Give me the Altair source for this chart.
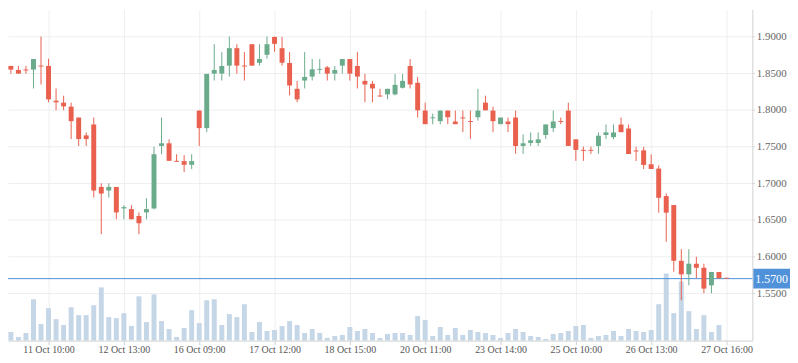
import altair as alt
import pandas as pd

# ---- data ----
open_ = [1.8640, 1.8600, 1.8545, 1.8552, 1.8550, 1.8605, 1.8600, 1.8126, 1.8099, 1.8045,
         1.7896, 1.7653, 1.7802, 1.6950, 1.6901, 1.6950, 1.6657, 1.6648, 1.6554, 1.6603,
         1.6657, 1.7509, 1.7545, 1.7306, 1.7302, 1.7252, 1.7991, 1.7752, 1.8495, 1.8495,
         1.8604, 1.8842, 1.8605, 1.8896, 1.8644, 1.8752, 1.8995, 1.8842, 1.8640, 1.8288,
         1.8401, 1.8455, 1.8548, 1.8581, 1.8495, 1.8604, 1.8694, 1.8599, 1.8396, 1.8356,
         1.8196, 1.8212, 1.8212, 1.8302, 1.8599, 1.8370, 1.7991, 1.7886, 1.7847, 1.7991,
         1.7842, 1.7898, 1.7848, 1.7901, 1.8099, 1.7991, 1.7806, 1.7842, 1.7896, 1.7509,
         1.7550, 1.7550, 1.7658, 1.7752, 1.7848, 1.7991, 1.7599, 1.7456, 1.7456, 1.7509,
         1.7658, 1.7629, 1.7801, 1.7747, 1.7447, 1.7449, 1.7259, 1.7200, 1.6825, 1.6703,
         1.5943, 1.5758, 1.5903, 1.5848, 1.5609, 1.5790, 1.5712]
high = [1.8698, 1.8600, 1.8600, 1.8600, 1.8694, 1.9000, 1.8698, 1.8293, 1.8194, 1.8099,
        1.7896, 1.7694, 1.7896, 1.7000, 1.7000, 1.6950, 1.6702, 1.6702, 1.6603, 1.6797,
        1.7500, 1.7896, 1.7599, 1.7396, 1.7383, 1.7396, 1.7991, 1.8491, 1.8896, 1.8788,
        1.9000, 1.8896, 1.8788, 1.8896, 1.8896, 1.9000, 1.9035, 1.8995, 1.8788, 1.8396,
        1.8788, 1.8694, 1.8694, 1.8599, 1.8599, 1.8694, 1.8694, 1.8788, 1.8491, 1.8396,
        1.8288, 1.8288, 1.8491, 1.8491, 1.8694, 1.8450, 1.8099, 1.7950, 1.7991, 1.7991,
        1.7991, 1.7991, 1.7991, 1.8288, 1.8194, 1.8045, 1.7896, 1.7896, 1.7991, 1.7667,
        1.7694, 1.7694, 1.7802, 1.7991, 1.7896, 1.8099, 1.7599, 1.7500, 1.7500, 1.7694,
        1.7802, 1.7801, 1.7896, 1.7801, 1.7498, 1.7498, 1.7394, 1.7245, 1.6861, 1.6703,
        1.6102, 1.6102, 1.5998, 1.5903, 1.5790, 1.5790, 1.5712]
low = [1.8495, 1.8495, 1.8495, 1.8495, 1.8293, 1.8347, 1.8104, 1.7995, 1.7995, 1.7603,
       1.7509, 1.7509, 1.6806, 1.6306, 1.6806, 1.6509, 1.6509, 1.6509, 1.6306, 1.6509,
       1.6644, 1.7396, 1.7306, 1.7293, 1.7153, 1.7194, 1.7509, 1.7698, 1.8401, 1.8401,
       1.8455, 1.8495, 1.8401, 1.8604, 1.8604, 1.8698, 1.8793, 1.8604, 1.8198, 1.8104,
       1.8293, 1.8401, 1.8495, 1.8401, 1.8401, 1.8495, 1.8401, 1.8293, 1.8104, 1.8104,
       1.8183, 1.8144, 1.8198, 1.8293, 1.8293, 1.7896, 1.7806, 1.7806, 1.7806, 1.7806,
       1.7806, 1.7698, 1.7604, 1.7856, 1.7995, 1.7698, 1.7806, 1.7698, 1.7401, 1.7401,
       1.7509, 1.7509, 1.7604, 1.7698, 1.7806, 1.7509, 1.7306, 1.7306, 1.7401, 1.7401,
       1.7604, 1.7602, 1.7697, 1.7399, 1.7304, 1.7195, 1.7195, 1.6599, 1.6201, 1.5794,
       1.5406, 1.5609, 1.5708, 1.5500, 1.5500, 1.5704, 1.5700]
close = [1.8550, 1.8550, 1.8495, 1.8539, 1.8694, 1.8592, 1.8144, 1.8104, 1.8049, 1.7847,
         1.7603, 1.7603, 1.6901, 1.6860, 1.6950, 1.6603, 1.6675, 1.6509, 1.6455, 1.6648,
         1.7396, 1.7545, 1.7306, 1.7293, 1.7252, 1.7302, 1.7752, 1.8491, 1.8545, 1.8599,
         1.8842, 1.8604, 1.8592, 1.8604, 1.8694, 1.8896, 1.8901, 1.8644, 1.8333, 1.8144,
         1.8450, 1.8554, 1.8561, 1.8495, 1.8545, 1.8694, 1.8495, 1.8455, 1.8347, 1.8293,
         1.8183, 1.8288, 1.8342, 1.8396, 1.8347, 1.7995, 1.7806, 1.7899, 1.7991, 1.7901,
         1.7806, 1.7885, 1.7835, 1.7991, 1.7995, 1.7847, 1.7896, 1.7806, 1.7509, 1.7545,
         1.7586, 1.7599, 1.7802, 1.7842, 1.7835, 1.7509, 1.7455, 1.7443, 1.7443, 1.7649,
         1.7694, 1.7693, 1.7697, 1.7399, 1.7434, 1.7250, 1.7195, 1.6802, 1.6599, 1.5943,
         1.5758, 1.5903, 1.5848, 1.5564, 1.5790, 1.5704, 1.5700]
volume = [71, 26, 11, 23, 125, 50, 98, 65, 47, 101,
          77, 77, 107, 161, 71, 68, 83, 44, 134, 56,
          140, 59, 35, 11, 38, 92, 53, 122, 125, 47,
          80, 71, 110, 26, 56, 29, 32, 44, 59, 47,
          23, 35, 23, 8, 14, 17, 41, 29, 35, 23,
          8, 20, 23, 23, 17, 74, 62, 14, 41, 17,
          38, 17, 32, 26, 23, 17, 8, 23, 35, 26,
          14, 11, 5, 20, 23, 29, 44, 47, 8, 14,
          17, 29, 14, 35, 29, 26, 32, 110, 203, 83,
          179, 89, 35, 77, 26, 47, 1]
tick_idx = [6, 16, 26, 36, 46, 56, 66, 76, 86, 96]
tick_labels = ["11 Oct 10:00", "12 Oct 13:00", "16 Oct 09:00", "17 Oct 12:00", "18 Oct 15:00",
               "20 Oct 11:00", "23 Oct 14:00", "25 Oct 10:00", "26 Oct 13:00", "27 Oct 16:00"]
price_ticks = [1.55, 1.60, 1.65, 1.70, 1.75, 1.80, 1.85, 1.90]
last_price = [1.5700]

# ---- styles ----
RED = "#e9604f"
GREEN = "#6aab8c"
VOL = "#c5d6e7"
BLUE = "#4a90d9"
BOX = "#4f92da"
GRID = "#efefef"
AXIS = "#d0d0d0"
FONT = "Liberation Serif"

W, H = 751, 334

df = pd.DataFrame({"i": list(range(len(open_))), "open": open_, "high": high,
                   "low": low, "close": close, "volume": volume})
lp = pd.DataFrame({"p": last_price})

x_scale = alt.Scale(domain=[0.618, 99.43], nice=False, zero=False, padding=0)
y_scale = alt.Scale(domain=[1.48554, 1.93689], nice=False, zero=False, padding=0)
v_scale = alt.Scale(domain=[0, 1002], nice=False, zero=True, padding=0)

label_expr = "[" + ",".join("'%s'" % t for t in tick_labels) + "][round((datum.value - 6) / 10)]"
x_axis = alt.Axis(values=tick_idx, labelExpr=label_expr, grid=True, gridColor=GRID,
                  domainColor=AXIS, tickColor=AXIS, tickSize=4, labelFont=FONT,
                  labelFontSize=10, labelColor="#555555", labelPadding=0, title=None,
                  labelOverlap=False)
X = alt.X("i:Q", scale=x_scale, axis=x_axis)

y_axis = alt.Axis(orient="right", values=price_ticks, format=".4f", grid=True, gridColor=GRID,
                  domainColor=AXIS, tickColor=AXIS, tickSize=2, labelPadding=2,
                  labelFont=FONT, labelFontSize=11, labelColor="#666666", title=None)

calc = dict(
    dir="datum.close >= datum.open ? 'up' : 'down'",
    hi="min(datum.high, 1.9)",
    btop="min(max(datum.open, datum.close), 1.9)",
    bbot="min(datum.open, datum.close)",
)
color = alt.Color("dir:N", scale=alt.Scale(domain=["up", "down"], range=[GREEN, RED]), legend=None)

wick = alt.Chart(df).transform_calculate(**calc).mark_rule(strokeWidth=1).encode(
    x=X,
    y=alt.Y("low:Q", scale=y_scale, axis=y_axis),
    y2="hi:Q",
    color=color,
)

vol = alt.Chart(df).mark_bar(color=VOL, size=5, orient="vertical").encode(
    x=X,
    y=alt.Y("volume:Q", scale=v_scale, axis=None),
)

body = alt.Chart(df).transform_calculate(**calc).mark_bar(size=5, orient="vertical").encode(
    x=X,
    y=alt.Y("bbot:Q", scale=y_scale, axis=None),
    y2="btop:Q",
    color=color,
)

line = alt.Chart(lp).mark_rule(color=BLUE, strokeWidth=1).encode(
    y=alt.Y("p:Q", scale=y_scale, axis=None)
)
box = alt.Chart(lp).transform_calculate(
    top="datum.p + 0.0135", bot="datum.p - 0.0135"
).mark_rect(color=BOX).encode(
    x=alt.value(W + 1), x2=alt.value(W + 38),
    y=alt.Y("top:Q", scale=y_scale, axis=None), y2="bot:Q",
)
box_text = alt.Chart(lp).mark_text(color="white", font=FONT, fontSize=12, align="center",
                                   baseline="middle").encode(
    x=alt.value(W + 19.5),
    y=alt.Y("p:Q", scale=y_scale, axis=None),
    text=alt.Text("p:Q", format=".4f"),
)

chart = alt.layer(vol, line, wick, body, box, box_text).resolve_scale(
    y="independent"
).properties(
    width=W, height=H,
    padding={"left": 0, "top": 0, "right": 38, "bottom": 12},
    autosize=alt.AutoSizeParams(type="none"),
).configure_view(strokeWidth=0)

chart.save("out.html", embed_options={"renderer": "svg", "actions": False})
